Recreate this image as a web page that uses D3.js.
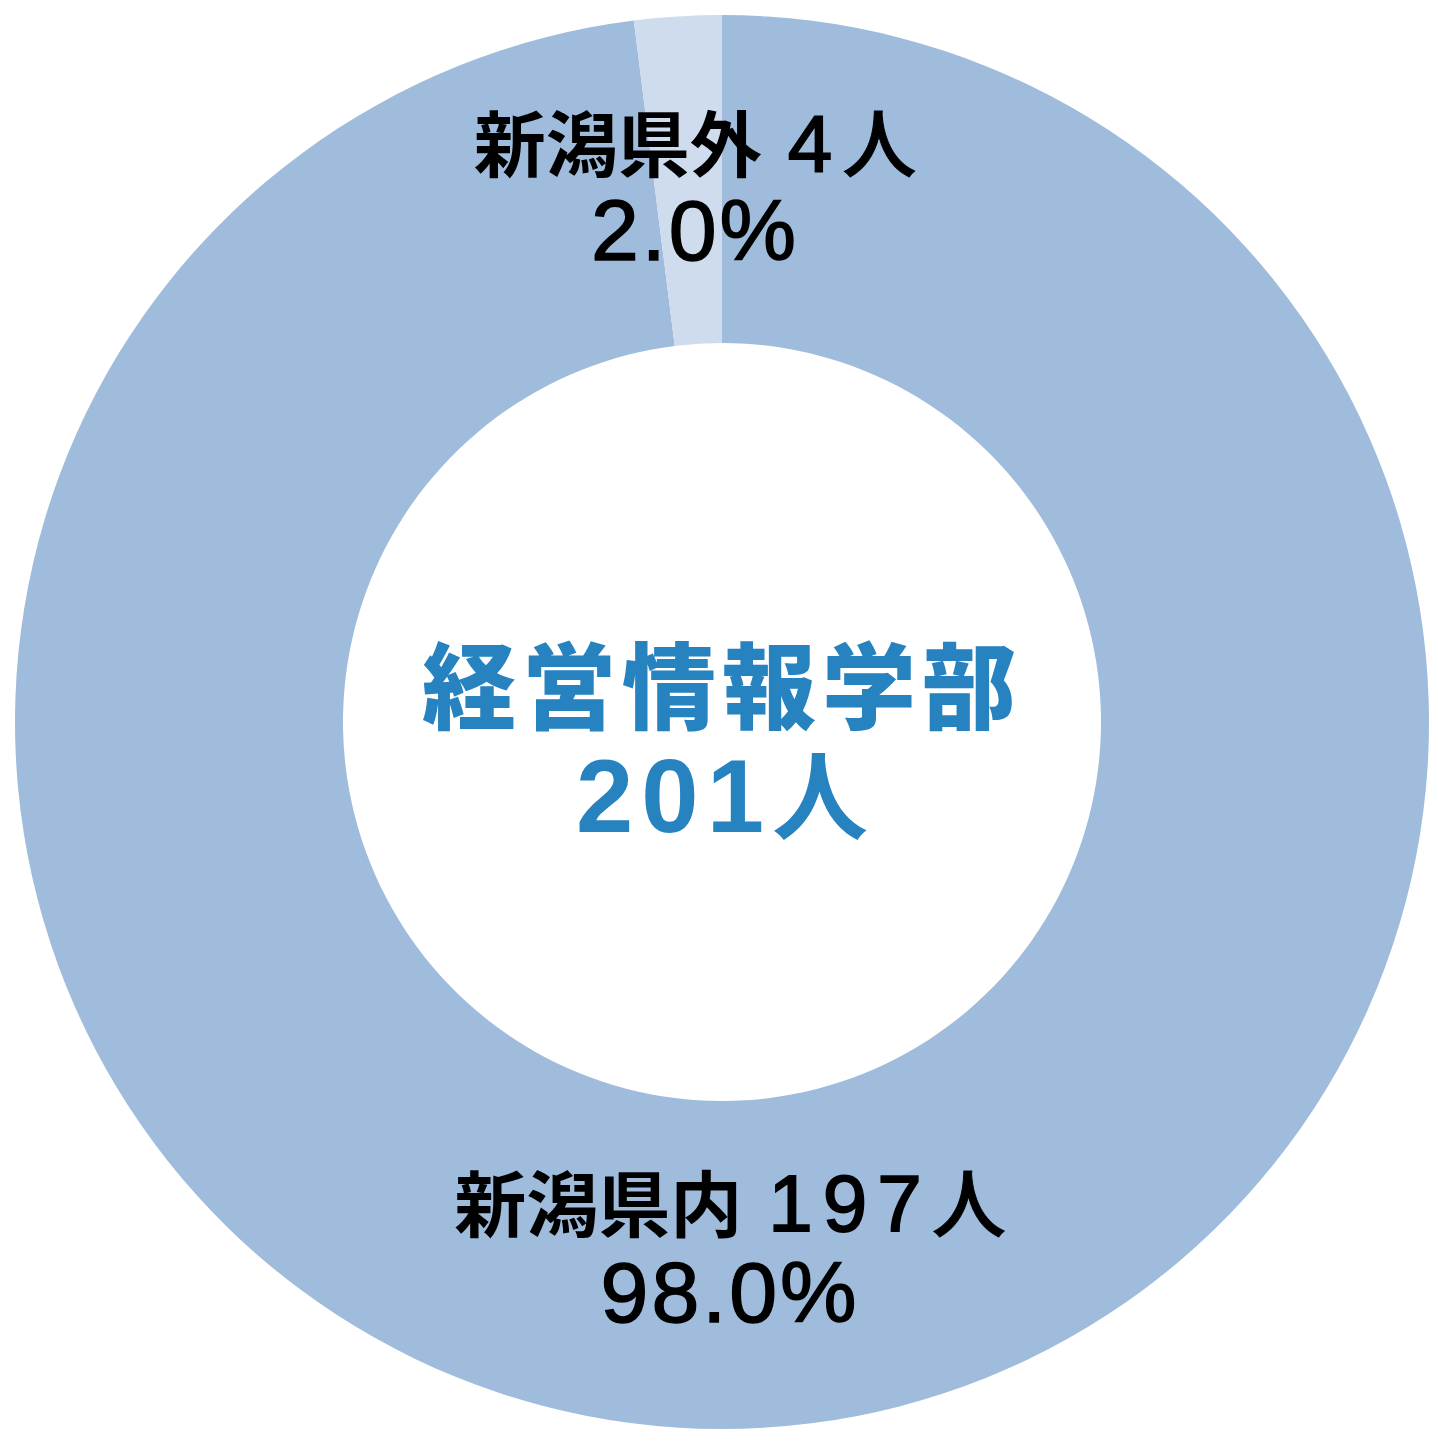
<!DOCTYPE html>
<html>
<head>
<meta charset="utf-8">
<script src="https://cdn.jsdelivr.net/npm/d3@7"></script>
<style>
  html, body { margin: 0; padding: 0; background: #fff; }
  svg { display: block; }
</style>
</head>
<body>
<div id="chart"></div>
<script>
// data
const regions = ['新潟県内', '新潟県外'];
const counts = [197, 4];
const percents = ['98.0%', '2.0%'];
const faculty = '経営情報学部';
const totalLabel = '201';
const unit = '人';

const colors = ['#a0bcdc', '#cfdcee'];

const dimensions = {
    width: 1438,
    height: 1445,
    cx: 722,
    cy: 722,
    outer: 707,
    inner: 379
};

// label offsets from centre (line 1 baseline, line 2 baseline)
const labelPos = [
    { dx: 8, dy1: 509, dy2: 600 },
    { dx: -27, dy1: -551, dy2: -462 }
];

const kanjiFont = '"Noto Sans CJK JP", "Noto Sans CJK SC", sans-serif';
const numFont = '"Liberation Sans", Arial, sans-serif';

const svg = d3.select('#chart').append('svg')
    .attr('width', dimensions.width)
    .attr('height', dimensions.height);

const bounds = svg.append('g')
    .attr('transform', `translate(${dimensions.cx},${dimensions.cy})`);

const pie = d3.pie()
    .sort(null)
    .value(d => d);

const arcGenerator = d3.arc()
    .innerRadius(dimensions.inner)
    .outerRadius(dimensions.outer);

const arcs = pie(counts);

bounds.selectAll('path.slice')
    .data(arcs)
    .join('path')
    .attr('class', 'slice')
    .attr('d', arcGenerator)
    .attr('fill', (d, i) => colors[i]);

// slice labels
arcs.forEach((d, i) => {
    const p = labelPos[i];
    const t1 = bounds.append('text')
        .attr('x', p.dx)
        .attr('y', p.dy1)
        .attr('text-anchor', 'middle')
        .attr('fill', '#000');
    t1.append('tspan')
        .style('font-family', kanjiFont)
        .style('font-weight', 700)
        .style('font-size', '72px')
        .text(regions[i]);
    t1.append('tspan')
        .attr('dx', 26)
        .style('font-family', numFont)
        .style('font-size', '80px')
        .style('letter-spacing', '10px')
        .style('stroke', '#000')
        .style('stroke-width', '1.8px')
        .text(counts[i]);
    t1.append('tspan')
        .style('font-family', kanjiFont)
        .style('font-weight', 500)
        .style('font-size', '74px')
        .style('stroke', '#000')
        .style('stroke-width', '1px')
        .text(unit);

    bounds.append('text')
        .attr('x', p.dx)
        .attr('y', p.dy2)
        .attr('text-anchor', 'middle')
        .attr('fill', '#000')
        .style('font-family', numFont)
        .style('font-size', '86px')
        .style('letter-spacing', '3px')
        .style('stroke', '#000')
        .style('stroke-width', '1.5px')
        .text(percents[i]);
});

// centre label
bounds.append('text')
    .attr('x', 0)
    .attr('y', 0)
    .attr('text-anchor', 'middle')
    .attr('fill', '#2683c0')
    .style('font-family', kanjiFont)
    .style('font-weight', 900)
    .style('font-size', '94px')
    .style('letter-spacing', '6px')
    .text(faculty);

const c2 = bounds.append('text')
    .attr('x', 0)
    .attr('y', 110)
    .attr('text-anchor', 'middle')
    .attr('fill', '#2683c0');
c2.append('tspan')
    .style('font-family', numFont)
    .style('font-weight', 700)
    .style('font-size', '103px')
    .style('letter-spacing', '8px')
    .text(totalLabel);
c2.append('tspan')
    .style('font-family', kanjiFont)
    .style('font-weight', 700)
    .style('font-size', '96px')
    .text(unit);
</script>
</body>
</html>
